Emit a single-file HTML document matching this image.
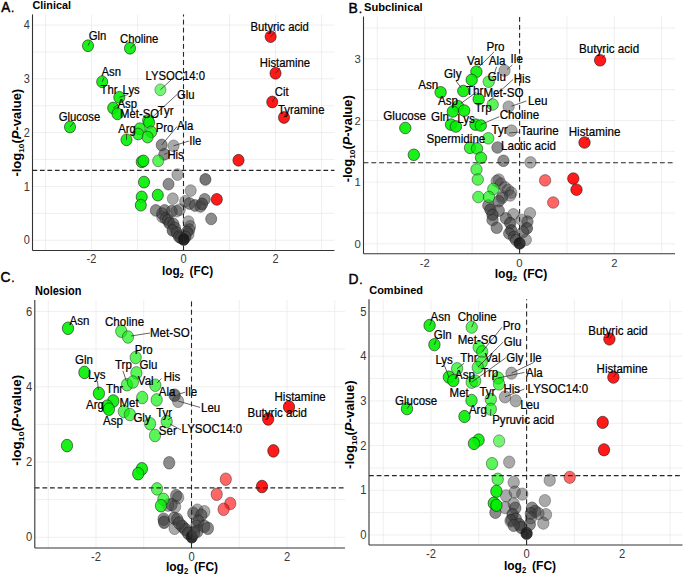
<!DOCTYPE html>
<html><head><meta charset="utf-8"><style>
html,body{margin:0;padding:0;background:#fff;}
svg{display:block;}
text{font-family:"Liberation Sans", sans-serif;}
</style></head><body>
<svg width="685" height="576" viewBox="0 0 685 576" font-family='"Liberation Sans", sans-serif'>
<rect width="685" height="576" fill="#fff"/>
<line x1="45.5" y1="14.4" x2="45.5" y2="250.5" stroke="#ebebeb" stroke-width="0.8"/>
<line x1="91.5" y1="14.4" x2="91.5" y2="250.5" stroke="#ebebeb" stroke-width="0.8"/>
<line x1="137.5" y1="14.4" x2="137.5" y2="250.5" stroke="#ebebeb" stroke-width="0.8"/>
<line x1="183.5" y1="14.4" x2="183.5" y2="250.5" stroke="#ebebeb" stroke-width="0.8"/>
<line x1="229.5" y1="14.4" x2="229.5" y2="250.5" stroke="#ebebeb" stroke-width="0.8"/>
<line x1="275.5" y1="14.4" x2="275.5" y2="250.5" stroke="#ebebeb" stroke-width="0.8"/>
<line x1="321.5" y1="14.4" x2="321.5" y2="250.5" stroke="#ebebeb" stroke-width="0.8"/>
<line x1="32.5" y1="240.25" x2="334.5" y2="240.25" stroke="#ebebeb" stroke-width="0.8"/>
<line x1="32.5" y1="213.35" x2="334.5" y2="213.35" stroke="#ebebeb" stroke-width="0.8"/>
<line x1="32.5" y1="186.45" x2="334.5" y2="186.45" stroke="#ebebeb" stroke-width="0.8"/>
<line x1="32.5" y1="159.55" x2="334.5" y2="159.55" stroke="#ebebeb" stroke-width="0.8"/>
<line x1="32.5" y1="132.65" x2="334.5" y2="132.65" stroke="#ebebeb" stroke-width="0.8"/>
<line x1="32.5" y1="105.75" x2="334.5" y2="105.75" stroke="#ebebeb" stroke-width="0.8"/>
<line x1="32.5" y1="78.85" x2="334.5" y2="78.85" stroke="#ebebeb" stroke-width="0.8"/>
<line x1="32.5" y1="51.95" x2="334.5" y2="51.95" stroke="#ebebeb" stroke-width="0.8"/>
<line x1="32.5" y1="25.05" x2="334.5" y2="25.05" stroke="#ebebeb" stroke-width="0.8"/>
<line x1="377.3" y1="16.5" x2="377.3" y2="253.7" stroke="#ebebeb" stroke-width="0.8"/>
<line x1="424.7" y1="16.5" x2="424.7" y2="253.7" stroke="#ebebeb" stroke-width="0.8"/>
<line x1="472.1" y1="16.5" x2="472.1" y2="253.7" stroke="#ebebeb" stroke-width="0.8"/>
<line x1="519.5" y1="16.5" x2="519.5" y2="253.7" stroke="#ebebeb" stroke-width="0.8"/>
<line x1="566.9" y1="16.5" x2="566.9" y2="253.7" stroke="#ebebeb" stroke-width="0.8"/>
<line x1="614.3" y1="16.5" x2="614.3" y2="253.7" stroke="#ebebeb" stroke-width="0.8"/>
<line x1="661.7" y1="16.5" x2="661.7" y2="253.7" stroke="#ebebeb" stroke-width="0.8"/>
<line x1="363.5" y1="243.8" x2="675" y2="243.8" stroke="#ebebeb" stroke-width="0.8"/>
<line x1="363.5" y1="212.98" x2="675" y2="212.98" stroke="#ebebeb" stroke-width="0.8"/>
<line x1="363.5" y1="182.15" x2="675" y2="182.15" stroke="#ebebeb" stroke-width="0.8"/>
<line x1="363.5" y1="151.33" x2="675" y2="151.33" stroke="#ebebeb" stroke-width="0.8"/>
<line x1="363.5" y1="120.5" x2="675" y2="120.5" stroke="#ebebeb" stroke-width="0.8"/>
<line x1="363.5" y1="89.68" x2="675" y2="89.68" stroke="#ebebeb" stroke-width="0.8"/>
<line x1="363.5" y1="58.85" x2="675" y2="58.85" stroke="#ebebeb" stroke-width="0.8"/>
<line x1="363.5" y1="28.03" x2="675" y2="28.03" stroke="#ebebeb" stroke-width="0.8"/>
<line x1="48.25" y1="300" x2="48.25" y2="548" stroke="#ebebeb" stroke-width="0.8"/>
<line x1="96.0" y1="300" x2="96.0" y2="548" stroke="#ebebeb" stroke-width="0.8"/>
<line x1="143.75" y1="300" x2="143.75" y2="548" stroke="#ebebeb" stroke-width="0.8"/>
<line x1="191.5" y1="300" x2="191.5" y2="548" stroke="#ebebeb" stroke-width="0.8"/>
<line x1="239.25" y1="300" x2="239.25" y2="548" stroke="#ebebeb" stroke-width="0.8"/>
<line x1="287.0" y1="300" x2="287.0" y2="548" stroke="#ebebeb" stroke-width="0.8"/>
<line x1="334.75" y1="300" x2="334.75" y2="548" stroke="#ebebeb" stroke-width="0.8"/>
<line x1="34.8" y1="537.3" x2="345" y2="537.3" stroke="#ebebeb" stroke-width="0.8"/>
<line x1="34.8" y1="499.65" x2="345" y2="499.65" stroke="#ebebeb" stroke-width="0.8"/>
<line x1="34.8" y1="462.0" x2="345" y2="462.0" stroke="#ebebeb" stroke-width="0.8"/>
<line x1="34.8" y1="424.35" x2="345" y2="424.35" stroke="#ebebeb" stroke-width="0.8"/>
<line x1="34.8" y1="386.7" x2="345" y2="386.7" stroke="#ebebeb" stroke-width="0.8"/>
<line x1="34.8" y1="349.05" x2="345" y2="349.05" stroke="#ebebeb" stroke-width="0.8"/>
<line x1="34.8" y1="311.4" x2="345" y2="311.4" stroke="#ebebeb" stroke-width="0.8"/>
<line x1="383.2" y1="299.3" x2="383.2" y2="545" stroke="#ebebeb" stroke-width="0.8"/>
<line x1="431.0" y1="299.3" x2="431.0" y2="545" stroke="#ebebeb" stroke-width="0.8"/>
<line x1="478.8" y1="299.3" x2="478.8" y2="545" stroke="#ebebeb" stroke-width="0.8"/>
<line x1="526.6" y1="299.3" x2="526.6" y2="545" stroke="#ebebeb" stroke-width="0.8"/>
<line x1="574.4" y1="299.3" x2="574.4" y2="545" stroke="#ebebeb" stroke-width="0.8"/>
<line x1="622.2" y1="299.3" x2="622.2" y2="545" stroke="#ebebeb" stroke-width="0.8"/>
<line x1="670.0" y1="299.3" x2="670.0" y2="545" stroke="#ebebeb" stroke-width="0.8"/>
<line x1="369" y1="534.9" x2="682.5" y2="534.9" stroke="#ebebeb" stroke-width="0.8"/>
<line x1="369" y1="512.57" x2="682.5" y2="512.57" stroke="#ebebeb" stroke-width="0.8"/>
<line x1="369" y1="490.25" x2="682.5" y2="490.25" stroke="#ebebeb" stroke-width="0.8"/>
<line x1="369" y1="467.92" x2="682.5" y2="467.92" stroke="#ebebeb" stroke-width="0.8"/>
<line x1="369" y1="445.6" x2="682.5" y2="445.6" stroke="#ebebeb" stroke-width="0.8"/>
<line x1="369" y1="423.27" x2="682.5" y2="423.27" stroke="#ebebeb" stroke-width="0.8"/>
<line x1="369" y1="400.95" x2="682.5" y2="400.95" stroke="#ebebeb" stroke-width="0.8"/>
<line x1="369" y1="378.62" x2="682.5" y2="378.62" stroke="#ebebeb" stroke-width="0.8"/>
<line x1="369" y1="356.3" x2="682.5" y2="356.3" stroke="#ebebeb" stroke-width="0.8"/>
<line x1="369" y1="333.98" x2="682.5" y2="333.98" stroke="#ebebeb" stroke-width="0.8"/>
<line x1="369" y1="311.65" x2="682.5" y2="311.65" stroke="#ebebeb" stroke-width="0.8"/>
<line x1="32.5" y1="14.4" x2="32.5" y2="250.5" stroke="#333333" stroke-width="1.1"/>
<line x1="32.5" y1="250.5" x2="334.5" y2="250.5" stroke="#333333" stroke-width="1.1"/>
<text transform="translate(91.5,262.9) scale(1,1.08)" font-size="11" text-anchor="middle" fill="#383838">-2</text>
<text transform="translate(183.5,262.9) scale(1,1.08)" font-size="11" text-anchor="middle" fill="#383838">0</text>
<text transform="translate(275.5,262.9) scale(1,1.08)" font-size="11" text-anchor="middle" fill="#383838">2</text>
<text transform="translate(29.9,244.35) scale(1,1.08)" font-size="11" text-anchor="end" fill="#383838">0</text>
<text transform="translate(29.9,190.55) scale(1,1.08)" font-size="11" text-anchor="end" fill="#383838">1</text>
<text transform="translate(29.9,136.75) scale(1,1.08)" font-size="11" text-anchor="end" fill="#383838">2</text>
<text transform="translate(29.9,82.95) scale(1,1.08)" font-size="11" text-anchor="end" fill="#383838">3</text>
<text transform="translate(29.9,29.15) scale(1,1.08)" font-size="11" text-anchor="end" fill="#383838">4</text>
<text transform="translate(32.5,9.4) scale(1,1.08)" font-size="10.8" font-weight="bold">Clinical</text>
<text transform="translate(1.2,12) scale(1,1.08)" font-size="13.5" stroke="#000" stroke-width="0.45">A<tspan font-size="10" dx="1">.</tspan></text>
<text transform="translate(187.5,275) scale(1,1.08)" font-size="11.8" text-anchor="middle" font-weight="bold">log<tspan font-size="7.5" dy="3">2</tspan><tspan dy="-3" dx="2.5"> (FC)</tspan></text>
<text transform="translate(21,132.7) rotate(-90) scale(1.08,1)" font-size="12" font-weight="bold" text-anchor="middle">-log<tspan font-size="7.8" dy="3">10</tspan><tspan dy="-3">(</tspan><tspan font-style="italic">P</tspan>-value)</text>
<ellipse cx="161.7" cy="145" rx="5.55" ry="5.9" fill="#404040" stroke="#1a1a1a" stroke-width="0.6" fill-opacity="0.6" stroke-opacity="0.7"/>
<ellipse cx="173.6" cy="145.8" rx="5.55" ry="5.9" fill="#404040" stroke="#1a1a1a" stroke-width="0.6" fill-opacity="0.45" stroke-opacity="0.55"/>
<ellipse cx="164.3" cy="154.3" rx="5.55" ry="5.9" fill="#404040" stroke="#1a1a1a" stroke-width="0.6" fill-opacity="0.6" stroke-opacity="0.7"/>
<ellipse cx="177.4" cy="174.6" rx="5.55" ry="5.9" fill="#404040" stroke="#1a1a1a" stroke-width="0.6" fill-opacity="0.45" stroke-opacity="0.55"/>
<ellipse cx="168.5" cy="184.1" rx="5.55" ry="5.9" fill="#404040" stroke="#1a1a1a" stroke-width="0.6" fill-opacity="0.6" stroke-opacity="0.7"/>
<ellipse cx="205.4" cy="179.4" rx="5.55" ry="5.9" fill="#404040" stroke="#1a1a1a" stroke-width="0.6" fill-opacity="0.72" stroke-opacity="0.82"/>
<ellipse cx="190.7" cy="190.6" rx="5.55" ry="5.9" fill="#404040" stroke="#1a1a1a" stroke-width="0.6" fill-opacity="0.45" stroke-opacity="0.55"/>
<ellipse cx="172.8" cy="198.7" rx="5.55" ry="5.9" fill="#404040" stroke="#1a1a1a" stroke-width="0.6" fill-opacity="0.45" stroke-opacity="0.55"/>
<ellipse cx="185.2" cy="201.3" rx="5.55" ry="5.9" fill="#404040" stroke="#1a1a1a" stroke-width="0.6" fill-opacity="0.45" stroke-opacity="0.55"/>
<ellipse cx="189.5" cy="203.5" rx="5.55" ry="5.9" fill="#404040" stroke="#1a1a1a" stroke-width="0.6" fill-opacity="0.6" stroke-opacity="0.7"/>
<ellipse cx="195" cy="205.5" rx="5.55" ry="5.9" fill="#404040" stroke="#1a1a1a" stroke-width="0.6" fill-opacity="0.6" stroke-opacity="0.7"/>
<ellipse cx="200.5" cy="206.4" rx="5.55" ry="5.9" fill="#404040" stroke="#1a1a1a" stroke-width="0.6" fill-opacity="0.6" stroke-opacity="0.7"/>
<ellipse cx="204.7" cy="199.3" rx="5.55" ry="5.9" fill="#404040" stroke="#1a1a1a" stroke-width="0.6" fill-opacity="0.6" stroke-opacity="0.7"/>
<ellipse cx="202.1" cy="203.9" rx="5.55" ry="5.9" fill="#404040" stroke="#1a1a1a" stroke-width="0.6" fill-opacity="0.72" stroke-opacity="0.82"/>
<ellipse cx="155.8" cy="210.4" rx="5.55" ry="5.9" fill="#404040" stroke="#1a1a1a" stroke-width="0.6" fill-opacity="0.6" stroke-opacity="0.7"/>
<ellipse cx="164.6" cy="210.4" rx="5.55" ry="5.9" fill="#404040" stroke="#1a1a1a" stroke-width="0.6" fill-opacity="0.6" stroke-opacity="0.7"/>
<ellipse cx="171.8" cy="211.2" rx="5.55" ry="5.9" fill="#404040" stroke="#1a1a1a" stroke-width="0.6" fill-opacity="0.6" stroke-opacity="0.7"/>
<ellipse cx="176.6" cy="211.2" rx="5.55" ry="5.9" fill="#404040" stroke="#1a1a1a" stroke-width="0.6" fill-opacity="0.45" stroke-opacity="0.55"/>
<ellipse cx="179.8" cy="209.6" rx="5.55" ry="5.9" fill="#404040" stroke="#1a1a1a" stroke-width="0.6" fill-opacity="0.45" stroke-opacity="0.55"/>
<ellipse cx="162.2" cy="216.8" rx="5.55" ry="5.9" fill="#404040" stroke="#1a1a1a" stroke-width="0.6" fill-opacity="0.45" stroke-opacity="0.55"/>
<ellipse cx="162.2" cy="213.6" rx="5.55" ry="5.9" fill="#404040" stroke="#1a1a1a" stroke-width="0.6" fill-opacity="0.6" stroke-opacity="0.7"/>
<ellipse cx="211.2" cy="218.9" rx="5.55" ry="5.9" fill="#404040" stroke="#1a1a1a" stroke-width="0.6" fill-opacity="0.6" stroke-opacity="0.7"/>
<ellipse cx="165.4" cy="218.4" rx="5.55" ry="5.9" fill="#404040" stroke="#1a1a1a" stroke-width="0.6" fill-opacity="0.6" stroke-opacity="0.7"/>
<ellipse cx="168" cy="220" rx="5.55" ry="5.9" fill="#404040" stroke="#1a1a1a" stroke-width="0.6" fill-opacity="0.6" stroke-opacity="0.7"/>
<ellipse cx="169.4" cy="223.2" rx="5.55" ry="5.9" fill="#404040" stroke="#1a1a1a" stroke-width="0.6" fill-opacity="0.72" stroke-opacity="0.82"/>
<ellipse cx="173.4" cy="224" rx="5.55" ry="5.9" fill="#404040" stroke="#1a1a1a" stroke-width="0.6" fill-opacity="0.6" stroke-opacity="0.7"/>
<ellipse cx="175" cy="228" rx="5.55" ry="5.9" fill="#404040" stroke="#1a1a1a" stroke-width="0.6" fill-opacity="0.6" stroke-opacity="0.7"/>
<ellipse cx="172.6" cy="230.4" rx="5.55" ry="5.9" fill="#404040" stroke="#1a1a1a" stroke-width="0.6" fill-opacity="0.72" stroke-opacity="0.82"/>
<ellipse cx="176.6" cy="232.7" rx="5.55" ry="5.9" fill="#404040" stroke="#1a1a1a" stroke-width="0.6" fill-opacity="0.72" stroke-opacity="0.82"/>
<ellipse cx="179" cy="236.7" rx="5.55" ry="5.9" fill="#404040" stroke="#1a1a1a" stroke-width="0.6" fill-opacity="0.72" stroke-opacity="0.82"/>
<ellipse cx="181" cy="238" rx="5.55" ry="5.9" fill="#404040" stroke="#1a1a1a" stroke-width="0.6" fill-opacity="0.6" stroke-opacity="0.7"/>
<ellipse cx="188.5" cy="221.6" rx="5.55" ry="5.9" fill="#404040" stroke="#1a1a1a" stroke-width="0.6" fill-opacity="0.45" stroke-opacity="0.55"/>
<ellipse cx="190.1" cy="226.4" rx="5.55" ry="5.9" fill="#404040" stroke="#1a1a1a" stroke-width="0.6" fill-opacity="0.45" stroke-opacity="0.55"/>
<ellipse cx="189.3" cy="229.6" rx="5.55" ry="5.9" fill="#404040" stroke="#1a1a1a" stroke-width="0.6" fill-opacity="0.6" stroke-opacity="0.7"/>
<ellipse cx="187" cy="232" rx="5.55" ry="5.9" fill="#404040" stroke="#1a1a1a" stroke-width="0.6" fill-opacity="0.6" stroke-opacity="0.7"/>
<ellipse cx="188.5" cy="234.3" rx="5.55" ry="5.9" fill="#404040" stroke="#1a1a1a" stroke-width="0.6" fill-opacity="0.45" stroke-opacity="0.55"/>
<ellipse cx="185.5" cy="237" rx="5.55" ry="5.9" fill="#404040" stroke="#1a1a1a" stroke-width="0.6" fill-opacity="0.6" stroke-opacity="0.7"/>
<ellipse cx="183.75" cy="239.5" rx="5.55" ry="5.9" fill="#1a1a1a" stroke="#1a1a1a" stroke-width="0.6" fill-opacity="0.9" stroke-opacity="1"/>
<ellipse cx="88" cy="45.75" rx="5.55" ry="5.9" fill="#00f000" stroke="#1a1a1a" stroke-width="0.6" fill-opacity="0.9" stroke-opacity="1"/>
<ellipse cx="130" cy="48.25" rx="5.55" ry="5.9" fill="#00f000" stroke="#1a1a1a" stroke-width="0.6" fill-opacity="0.9" stroke-opacity="1"/>
<ellipse cx="102.2" cy="81.8" rx="5.55" ry="5.9" fill="#00f000" stroke="#1a1a1a" stroke-width="0.6" fill-opacity="0.9" stroke-opacity="1"/>
<ellipse cx="160.4" cy="89.8" rx="5.55" ry="5.9" fill="#00f000" stroke="#1a1a1a" stroke-width="0.6" fill-opacity="0.55" stroke-opacity="0.65"/>
<ellipse cx="119.3" cy="97.3" rx="5.55" ry="5.9" fill="#00f000" stroke="#1a1a1a" stroke-width="0.6" fill-opacity="0.9" stroke-opacity="1"/>
<ellipse cx="113.2" cy="108" rx="5.55" ry="5.9" fill="#00f000" stroke="#1a1a1a" stroke-width="0.6" fill-opacity="0.9" stroke-opacity="1"/>
<ellipse cx="117.5" cy="113.9" rx="5.55" ry="5.9" fill="#00f000" stroke="#1a1a1a" stroke-width="0.6" fill-opacity="0.9" stroke-opacity="1"/>
<ellipse cx="70" cy="127" rx="5.55" ry="5.9" fill="#00f000" stroke="#1a1a1a" stroke-width="0.6" fill-opacity="0.9" stroke-opacity="1"/>
<ellipse cx="126.5" cy="139.8" rx="5.55" ry="5.9" fill="#00f000" stroke="#1a1a1a" stroke-width="0.6" fill-opacity="0.9" stroke-opacity="1"/>
<ellipse cx="148.1" cy="120.4" rx="5.55" ry="5.9" fill="#00f000" stroke="#1a1a1a" stroke-width="0.6" fill-opacity="0.8" stroke-opacity="0.9"/>
<ellipse cx="149.2" cy="122.5" rx="5.55" ry="5.9" fill="#00f000" stroke="#1a1a1a" stroke-width="0.6" fill-opacity="0.8" stroke-opacity="0.9"/>
<ellipse cx="139.8" cy="128.75" rx="5.55" ry="5.9" fill="#00f000" stroke="#1a1a1a" stroke-width="0.6" fill-opacity="0.8" stroke-opacity="0.9"/>
<ellipse cx="138.2" cy="134" rx="5.55" ry="5.9" fill="#00f000" stroke="#1a1a1a" stroke-width="0.6" fill-opacity="0.8" stroke-opacity="0.9"/>
<ellipse cx="151.25" cy="131.9" rx="5.55" ry="5.9" fill="#00f000" stroke="#1a1a1a" stroke-width="0.6" fill-opacity="0.8" stroke-opacity="0.9"/>
<ellipse cx="147.6" cy="137.1" rx="5.55" ry="5.9" fill="#00f000" stroke="#1a1a1a" stroke-width="0.6" fill-opacity="0.8" stroke-opacity="0.9"/>
<ellipse cx="141.7" cy="161.8" rx="5.55" ry="5.9" fill="#00f000" stroke="#1a1a1a" stroke-width="0.6" fill-opacity="0.9" stroke-opacity="1"/>
<ellipse cx="143.4" cy="160.9" rx="5.55" ry="5.9" fill="#00f000" stroke="#1a1a1a" stroke-width="0.6" fill-opacity="0.9" stroke-opacity="1"/>
<ellipse cx="158.2" cy="160.8" rx="5.55" ry="5.9" fill="#00f000" stroke="#1a1a1a" stroke-width="0.6" fill-opacity="0.65" stroke-opacity="0.75"/>
<ellipse cx="144" cy="182.1" rx="5.55" ry="5.9" fill="#00f000" stroke="#1a1a1a" stroke-width="0.6" fill-opacity="0.9" stroke-opacity="1"/>
<ellipse cx="141.7" cy="196.9" rx="5.55" ry="5.9" fill="#00f000" stroke="#1a1a1a" stroke-width="0.6" fill-opacity="0.9" stroke-opacity="1"/>
<ellipse cx="140.8" cy="205.2" rx="5.55" ry="5.9" fill="#00f000" stroke="#1a1a1a" stroke-width="0.6" fill-opacity="0.9" stroke-opacity="1"/>
<ellipse cx="157.8" cy="195.1" rx="5.55" ry="5.9" fill="#00f000" stroke="#1a1a1a" stroke-width="0.6" fill-opacity="0.9" stroke-opacity="1"/>
<ellipse cx="270.65" cy="36.65" rx="5.55" ry="5.9" fill="#ff0000" stroke="#1a1a1a" stroke-width="0.6" fill-opacity="0.9" stroke-opacity="1"/>
<ellipse cx="275.5" cy="73.25" rx="5.55" ry="5.9" fill="#ff0000" stroke="#1a1a1a" stroke-width="0.6" fill-opacity="0.9" stroke-opacity="1"/>
<ellipse cx="272.25" cy="102" rx="5.55" ry="5.9" fill="#ff0000" stroke="#1a1a1a" stroke-width="0.6" fill-opacity="0.9" stroke-opacity="1"/>
<ellipse cx="284" cy="117.5" rx="5.55" ry="5.9" fill="#ff0000" stroke="#1a1a1a" stroke-width="0.6" fill-opacity="0.9" stroke-opacity="1"/>
<ellipse cx="238.5" cy="160.25" rx="5.55" ry="5.9" fill="#ff0000" stroke="#1a1a1a" stroke-width="0.6" fill-opacity="0.9" stroke-opacity="1"/>
<ellipse cx="216.8" cy="199.4" rx="5.55" ry="5.9" fill="#ff0000" stroke="#1a1a1a" stroke-width="0.6" fill-opacity="0.9" stroke-opacity="1"/>
<line x1="183.5" y1="250.5" x2="183.5" y2="14.4" stroke="#262626" stroke-width="1.1" stroke-dasharray="4.84,3.23"/>
<line x1="32.5" y1="170.4" x2="334.5" y2="170.4" stroke="#262626" stroke-width="1.1" stroke-dasharray="4.7,2.76"/>
<line x1="70" y1="127" x2="74" y2="122.3" stroke="#222" stroke-width="0.7"/>
<line x1="270.65" y1="36.65" x2="276" y2="31.5" stroke="#222" stroke-width="0.7"/>
<line x1="130.3" y1="48.2" x2="135.5" y2="43.5" stroke="#222" stroke-width="0.7"/>
<line x1="88" y1="45.75" x2="90" y2="41.5" stroke="#222" stroke-width="0.7"/>
<line x1="160.4" y1="89.8" x2="171" y2="80" stroke="#222" stroke-width="0.7"/>
<line x1="153.3" y1="116.3" x2="177" y2="94.5" stroke="#222" stroke-width="0.7"/>
<line x1="161.7" y1="145" x2="177" y2="126.6" stroke="#222" stroke-width="0.7"/>
<line x1="173.6" y1="145.8" x2="189" y2="141" stroke="#222" stroke-width="0.7"/>
<line x1="119.3" y1="97.3" x2="128.3" y2="94.4" stroke="#222" stroke-width="0.7"/>
<line x1="126.5" y1="139.8" x2="126.5" y2="134" stroke="#222" stroke-width="0.7"/>
<line x1="275.5" y1="73.25" x2="280" y2="68" stroke="#222" stroke-width="0.7"/>
<line x1="284" y1="117.5" x2="285.5" y2="114" stroke="#222" stroke-width="0.7"/>
<line x1="102.2" y1="81.8" x2="104" y2="77.5" stroke="#222" stroke-width="0.7"/>
<line x1="113.2" y1="108" x2="117.5" y2="105" stroke="#222" stroke-width="0.7"/>
<line x1="164.3" y1="154.3" x2="167.5" y2="153" stroke="#222" stroke-width="0.7"/>
<line x1="272.25" y1="102" x2="275" y2="97.5" stroke="#222" stroke-width="0.7"/>
<text transform="translate(88.75,40) scale(1,1.08)" font-size="11.3" stroke="#000" stroke-width="0.2">Gln</text>
<text transform="translate(120,42.5) scale(1,1.08)" font-size="11.3" stroke="#000" stroke-width="0.2">Choline</text>
<text transform="translate(101.5,76) scale(1,1.08)" font-size="11.3" stroke="#000" stroke-width="0.2">Asn</text>
<text transform="translate(145.5,79.6) scale(1,1.08)" font-size="11.3" stroke="#000" stroke-width="0.2">LYSOC14:0</text>
<text transform="translate(100.5,93.5) scale(1,1.08)" font-size="11.3" stroke="#000" stroke-width="0.2">Thr</text>
<text transform="translate(122.6,93.5) scale(1,1.08)" font-size="11.3" stroke="#000" stroke-width="0.2">Lys</text>
<text transform="translate(117.5,108.1) scale(1,1.08)" font-size="11.3" stroke="#000" stroke-width="0.2">Asp</text>
<text transform="translate(120.1,117.7) scale(1,1.08)" font-size="11.3" stroke="#000" stroke-width="0.2">Met-SO</text>
<text transform="translate(157.8,115.2) scale(1,1.08)" font-size="11.3" stroke="#000" stroke-width="0.2">Tyr</text>
<text transform="translate(177,99.4) scale(1,1.08)" font-size="11.3" stroke="#000" stroke-width="0.2">Glu</text>
<text transform="translate(58.75,121) scale(1,1.08)" font-size="11.3" stroke="#000" stroke-width="0.2">Glucose</text>
<text transform="translate(118.2,132.6) scale(1,1.08)" font-size="11.3" stroke="#000" stroke-width="0.2">Arg</text>
<text transform="translate(155.7,132.2) scale(1,1.08)" font-size="11.3" stroke="#000" stroke-width="0.2">Pro</text>
<text transform="translate(177,130.1) scale(1,1.08)" font-size="11.3" stroke="#000" stroke-width="0.2">Ala</text>
<text transform="translate(189.3,145) scale(1,1.08)" font-size="11.3" stroke="#000" stroke-width="0.2">Ile</text>
<text transform="translate(167.4,159) scale(1,1.08)" font-size="11.3" stroke="#000" stroke-width="0.2">His</text>
<text transform="translate(250.5,30.5) scale(1,1.08)" font-size="11.3" stroke="#000" stroke-width="0.2">Butyric acid</text>
<text transform="translate(259.75,67) scale(1,1.08)" font-size="11.3" stroke="#000" stroke-width="0.2">Histamine</text>
<text transform="translate(274.75,96.25) scale(1,1.08)" font-size="11.3" stroke="#000" stroke-width="0.2">Cit</text>
<text transform="translate(278,113.75) scale(1,1.08)" font-size="11.3" stroke="#000" stroke-width="0.2">Tyramine</text>
<line x1="363.5" y1="16.5" x2="363.5" y2="253.7" stroke="#333333" stroke-width="1.1"/>
<line x1="363.5" y1="253.7" x2="675" y2="253.7" stroke="#333333" stroke-width="1.1"/>
<text transform="translate(424.7,266.5) scale(1.03,1.07)" font-size="11" text-anchor="middle" fill="#383838">-2</text>
<text transform="translate(519.5,266.5) scale(1.03,1.07)" font-size="11" text-anchor="middle" fill="#383838">0</text>
<text transform="translate(614.3,266.5) scale(1.03,1.07)" font-size="11" text-anchor="middle" fill="#383838">2</text>
<text transform="translate(360.9,247.9) scale(1.03,1.07)" font-size="11" text-anchor="end" fill="#383838">0</text>
<text transform="translate(360.9,186.25) scale(1.03,1.07)" font-size="11" text-anchor="end" fill="#383838">1</text>
<text transform="translate(360.9,124.6) scale(1.03,1.07)" font-size="11" text-anchor="end" fill="#383838">2</text>
<text transform="translate(360.9,62.95) scale(1.03,1.07)" font-size="11" text-anchor="end" fill="#383838">3</text>
<text transform="translate(364,11.2) scale(1.03,1.07)" font-size="10.8" font-weight="bold">Subclinical</text>
<text transform="translate(348.6,12.6) scale(1.03,1.07)" font-size="13.5" stroke="#000" stroke-width="0.45">B<tspan font-size="10" dx="1">.</tspan></text>
<text transform="translate(521,278) scale(1.03,1.07)" font-size="11.8" text-anchor="middle" font-weight="bold">log<tspan font-size="7.5" dy="3">2</tspan><tspan dy="-3" dx="2.5"> (FC)</tspan></text>
<text transform="translate(351.5,138.8) rotate(-90) scale(1.07,1.03)" font-size="12" font-weight="bold" text-anchor="middle">-log<tspan font-size="7.8" dy="3">10</tspan><tspan dy="-3">(</tspan><tspan font-style="italic">P</tspan>-value)</text>
<ellipse cx="504.5" cy="70.6" rx="5.7" ry="5.8" fill="#404040" stroke="#1a1a1a" stroke-width="0.6" fill-opacity="0.45" stroke-opacity="0.55"/>
<ellipse cx="508.6" cy="106.7" rx="5.7" ry="5.8" fill="#404040" stroke="#1a1a1a" stroke-width="0.6" fill-opacity="0.45" stroke-opacity="0.55"/>
<ellipse cx="511.5" cy="130.6" rx="5.7" ry="5.8" fill="#404040" stroke="#1a1a1a" stroke-width="0.6" fill-opacity="0.45" stroke-opacity="0.55"/>
<ellipse cx="497.5" cy="147.5" rx="5.7" ry="5.8" fill="#404040" stroke="#1a1a1a" stroke-width="0.6" fill-opacity="0.6" stroke-opacity="0.7"/>
<ellipse cx="503.4" cy="160.8" rx="5.7" ry="5.8" fill="#404040" stroke="#1a1a1a" stroke-width="0.6" fill-opacity="0.6" stroke-opacity="0.7"/>
<ellipse cx="530.5" cy="162.4" rx="5.7" ry="5.8" fill="#404040" stroke="#1a1a1a" stroke-width="0.6" fill-opacity="0.45" stroke-opacity="0.55"/>
<ellipse cx="498.75" cy="179.6" rx="5.7" ry="5.8" fill="#404040" stroke="#1a1a1a" stroke-width="0.6" fill-opacity="0.45" stroke-opacity="0.55"/>
<ellipse cx="496.7" cy="181.1" rx="5.7" ry="5.8" fill="#404040" stroke="#1a1a1a" stroke-width="0.6" fill-opacity="0.45" stroke-opacity="0.55"/>
<ellipse cx="500.8" cy="183.75" rx="5.7" ry="5.8" fill="#404040" stroke="#1a1a1a" stroke-width="0.6" fill-opacity="0.45" stroke-opacity="0.55"/>
<ellipse cx="505" cy="187.4" rx="5.7" ry="5.8" fill="#404040" stroke="#1a1a1a" stroke-width="0.6" fill-opacity="0.45" stroke-opacity="0.55"/>
<ellipse cx="508.1" cy="190" rx="5.7" ry="5.8" fill="#404040" stroke="#1a1a1a" stroke-width="0.6" fill-opacity="0.45" stroke-opacity="0.55"/>
<ellipse cx="511.25" cy="192.6" rx="5.7" ry="5.8" fill="#404040" stroke="#1a1a1a" stroke-width="0.6" fill-opacity="0.45" stroke-opacity="0.55"/>
<ellipse cx="502.4" cy="196.25" rx="5.7" ry="5.8" fill="#404040" stroke="#1a1a1a" stroke-width="0.6" fill-opacity="0.45" stroke-opacity="0.55"/>
<ellipse cx="501.9" cy="198.1" rx="5.7" ry="5.8" fill="#404040" stroke="#1a1a1a" stroke-width="0.6" fill-opacity="0.45" stroke-opacity="0.55"/>
<ellipse cx="498.75" cy="201.25" rx="5.7" ry="5.8" fill="#404040" stroke="#1a1a1a" stroke-width="0.6" fill-opacity="0.6" stroke-opacity="0.7"/>
<ellipse cx="510.2" cy="195.5" rx="5.7" ry="5.8" fill="#404040" stroke="#1a1a1a" stroke-width="0.6" fill-opacity="0.45" stroke-opacity="0.55"/>
<ellipse cx="488.3" cy="205.4" rx="5.7" ry="5.8" fill="#404040" stroke="#1a1a1a" stroke-width="0.6" fill-opacity="0.6" stroke-opacity="0.7"/>
<ellipse cx="490.4" cy="209.6" rx="5.7" ry="5.8" fill="#404040" stroke="#1a1a1a" stroke-width="0.6" fill-opacity="0.72" stroke-opacity="0.82"/>
<ellipse cx="498.75" cy="210.6" rx="5.7" ry="5.8" fill="#404040" stroke="#1a1a1a" stroke-width="0.6" fill-opacity="0.6" stroke-opacity="0.7"/>
<ellipse cx="492.5" cy="214.8" rx="5.7" ry="5.8" fill="#404040" stroke="#1a1a1a" stroke-width="0.6" fill-opacity="0.72" stroke-opacity="0.82"/>
<ellipse cx="492.5" cy="220" rx="5.7" ry="5.8" fill="#404040" stroke="#1a1a1a" stroke-width="0.6" fill-opacity="0.6" stroke-opacity="0.7"/>
<ellipse cx="496.7" cy="227.8" rx="5.7" ry="5.8" fill="#404040" stroke="#1a1a1a" stroke-width="0.6" fill-opacity="0.6" stroke-opacity="0.7"/>
<ellipse cx="506" cy="218.4" rx="5.7" ry="5.8" fill="#404040" stroke="#1a1a1a" stroke-width="0.6" fill-opacity="0.6" stroke-opacity="0.7"/>
<ellipse cx="513.3" cy="214.3" rx="5.7" ry="5.8" fill="#404040" stroke="#1a1a1a" stroke-width="0.6" fill-opacity="0.45" stroke-opacity="0.55"/>
<ellipse cx="510.2" cy="223.1" rx="5.7" ry="5.8" fill="#404040" stroke="#1a1a1a" stroke-width="0.6" fill-opacity="0.72" stroke-opacity="0.82"/>
<ellipse cx="511.25" cy="230.4" rx="5.7" ry="5.8" fill="#404040" stroke="#1a1a1a" stroke-width="0.6" fill-opacity="0.72" stroke-opacity="0.82"/>
<ellipse cx="509.2" cy="233.5" rx="5.7" ry="5.8" fill="#404040" stroke="#1a1a1a" stroke-width="0.6" fill-opacity="0.6" stroke-opacity="0.7"/>
<ellipse cx="514" cy="237" rx="5.7" ry="5.8" fill="#404040" stroke="#1a1a1a" stroke-width="0.6" fill-opacity="0.6" stroke-opacity="0.7"/>
<ellipse cx="516" cy="240" rx="5.7" ry="5.8" fill="#404040" stroke="#1a1a1a" stroke-width="0.6" fill-opacity="0.6" stroke-opacity="0.7"/>
<ellipse cx="519.6" cy="243.4" rx="5.7" ry="5.8" fill="#1a1a1a" stroke="#1a1a1a" stroke-width="0.6" fill-opacity="0.9" stroke-opacity="1"/>
<ellipse cx="530" cy="213.2" rx="5.7" ry="5.8" fill="#404040" stroke="#1a1a1a" stroke-width="0.6" fill-opacity="0.45" stroke-opacity="0.55"/>
<ellipse cx="527.4" cy="221.6" rx="5.7" ry="5.8" fill="#404040" stroke="#1a1a1a" stroke-width="0.6" fill-opacity="0.6" stroke-opacity="0.7"/>
<ellipse cx="526.9" cy="228.3" rx="5.7" ry="5.8" fill="#404040" stroke="#1a1a1a" stroke-width="0.6" fill-opacity="0.72" stroke-opacity="0.82"/>
<ellipse cx="525.8" cy="239.8" rx="5.7" ry="5.8" fill="#404040" stroke="#1a1a1a" stroke-width="0.6" fill-opacity="0.45" stroke-opacity="0.55"/>
<ellipse cx="521.7" cy="220" rx="5.7" ry="5.8" fill="#404040" stroke="#1a1a1a" stroke-width="0.6" fill-opacity="0.45" stroke-opacity="0.55"/>
<ellipse cx="523" cy="232" rx="5.7" ry="5.8" fill="#404040" stroke="#1a1a1a" stroke-width="0.6" fill-opacity="0.6" stroke-opacity="0.7"/>
<ellipse cx="405.3" cy="128" rx="5.7" ry="5.8" fill="#00f000" stroke="#1a1a1a" stroke-width="0.6" fill-opacity="0.9" stroke-opacity="1"/>
<ellipse cx="440.6" cy="92.3" rx="5.7" ry="5.8" fill="#00f000" stroke="#1a1a1a" stroke-width="0.6" fill-opacity="0.9" stroke-opacity="1"/>
<ellipse cx="463.3" cy="91" rx="5.7" ry="5.8" fill="#00f000" stroke="#1a1a1a" stroke-width="0.6" fill-opacity="0.9" stroke-opacity="1"/>
<ellipse cx="476.4" cy="71.7" rx="5.7" ry="5.8" fill="#00f000" stroke="#1a1a1a" stroke-width="0.6" fill-opacity="0.9" stroke-opacity="1"/>
<ellipse cx="471.7" cy="79.9" rx="5.7" ry="5.8" fill="#00f000" stroke="#1a1a1a" stroke-width="0.6" fill-opacity="0.9" stroke-opacity="1"/>
<ellipse cx="488.7" cy="81.7" rx="5.7" ry="5.8" fill="#00f000" stroke="#1a1a1a" stroke-width="0.6" fill-opacity="0.65" stroke-opacity="0.75"/>
<ellipse cx="478.7" cy="99.2" rx="5.7" ry="5.8" fill="#00f000" stroke="#1a1a1a" stroke-width="0.6" fill-opacity="0.9" stroke-opacity="1"/>
<ellipse cx="492.7" cy="104.5" rx="5.7" ry="5.8" fill="#00f000" stroke="#1a1a1a" stroke-width="0.6" fill-opacity="0.65" stroke-opacity="0.75"/>
<ellipse cx="458" cy="106.2" rx="5.7" ry="5.8" fill="#00f000" stroke="#1a1a1a" stroke-width="0.6" fill-opacity="0.9" stroke-opacity="1"/>
<ellipse cx="464.2" cy="110.6" rx="5.7" ry="5.8" fill="#00f000" stroke="#1a1a1a" stroke-width="0.6" fill-opacity="0.9" stroke-opacity="1"/>
<ellipse cx="452.8" cy="111.5" rx="5.7" ry="5.8" fill="#00f000" stroke="#1a1a1a" stroke-width="0.6" fill-opacity="0.9" stroke-opacity="1"/>
<ellipse cx="451" cy="124.6" rx="5.7" ry="5.8" fill="#00f000" stroke="#1a1a1a" stroke-width="0.6" fill-opacity="0.9" stroke-opacity="1"/>
<ellipse cx="455.9" cy="126.5" rx="5.7" ry="5.8" fill="#00f000" stroke="#1a1a1a" stroke-width="0.6" fill-opacity="0.9" stroke-opacity="1"/>
<ellipse cx="475.5" cy="124.6" rx="5.7" ry="5.8" fill="#00f000" stroke="#1a1a1a" stroke-width="0.6" fill-opacity="0.9" stroke-opacity="1"/>
<ellipse cx="480.8" cy="125.5" rx="5.7" ry="5.8" fill="#00f000" stroke="#1a1a1a" stroke-width="0.6" fill-opacity="0.9" stroke-opacity="1"/>
<ellipse cx="488.3" cy="138.3" rx="5.7" ry="5.8" fill="#00f000" stroke="#1a1a1a" stroke-width="0.6" fill-opacity="0.65" stroke-opacity="0.75"/>
<ellipse cx="413.8" cy="154.8" rx="5.7" ry="5.8" fill="#00f000" stroke="#1a1a1a" stroke-width="0.6" fill-opacity="0.9" stroke-opacity="1"/>
<ellipse cx="470" cy="147.8" rx="5.7" ry="5.8" fill="#00f000" stroke="#1a1a1a" stroke-width="0.6" fill-opacity="0.8" stroke-opacity="0.9"/>
<ellipse cx="477" cy="148.5" rx="5.7" ry="5.8" fill="#00f000" stroke="#1a1a1a" stroke-width="0.6" fill-opacity="0.8" stroke-opacity="0.9"/>
<ellipse cx="481" cy="157.8" rx="5.7" ry="5.8" fill="#00f000" stroke="#1a1a1a" stroke-width="0.6" fill-opacity="0.8" stroke-opacity="0.9"/>
<ellipse cx="476.5" cy="169.5" rx="5.7" ry="5.8" fill="#00f000" stroke="#1a1a1a" stroke-width="0.6" fill-opacity="0.65" stroke-opacity="0.75"/>
<ellipse cx="477.8" cy="179.5" rx="5.7" ry="5.8" fill="#00f000" stroke="#1a1a1a" stroke-width="0.6" fill-opacity="0.65" stroke-opacity="0.75"/>
<ellipse cx="493.3" cy="189" rx="5.7" ry="5.8" fill="#00f000" stroke="#1a1a1a" stroke-width="0.6" fill-opacity="0.65" stroke-opacity="0.75"/>
<ellipse cx="478.3" cy="197" rx="5.7" ry="5.8" fill="#00f000" stroke="#1a1a1a" stroke-width="0.6" fill-opacity="0.65" stroke-opacity="0.75"/>
<ellipse cx="489" cy="197" rx="5.7" ry="5.8" fill="#00f000" stroke="#1a1a1a" stroke-width="0.6" fill-opacity="0.65" stroke-opacity="0.75"/>
<ellipse cx="600.1" cy="60.3" rx="5.7" ry="5.8" fill="#ff0000" stroke="#1a1a1a" stroke-width="0.6" fill-opacity="0.9" stroke-opacity="1"/>
<ellipse cx="584.5" cy="142.5" rx="5.7" ry="5.8" fill="#ff0000" stroke="#1a1a1a" stroke-width="0.6" fill-opacity="0.9" stroke-opacity="1"/>
<ellipse cx="545.1" cy="180.4" rx="5.7" ry="5.8" fill="#ff0000" stroke="#1a1a1a" stroke-width="0.6" fill-opacity="0.6" stroke-opacity="0.7"/>
<ellipse cx="573.3" cy="178.6" rx="5.7" ry="5.8" fill="#ff0000" stroke="#1a1a1a" stroke-width="0.6" fill-opacity="0.9" stroke-opacity="1"/>
<ellipse cx="576.5" cy="189.7" rx="5.7" ry="5.8" fill="#ff0000" stroke="#1a1a1a" stroke-width="0.6" fill-opacity="0.9" stroke-opacity="1"/>
<ellipse cx="553.2" cy="202.5" rx="5.7" ry="5.8" fill="#ff0000" stroke="#1a1a1a" stroke-width="0.6" fill-opacity="0.6" stroke-opacity="0.7"/>
<line x1="519.6" y1="253.7" x2="519.6" y2="16.5" stroke="#262626" stroke-width="1.1" stroke-dasharray="4.8,3.2"/>
<line x1="363.5" y1="162.7" x2="675" y2="162.7" stroke="#262626" stroke-width="1.1" stroke-dasharray="4.91,2.89"/>
<line x1="494" y1="51.9" x2="478.2" y2="67.7" stroke="#222" stroke-width="0.7"/>
<line x1="496.6" y1="66.8" x2="494" y2="74.7" stroke="#222" stroke-width="0.7"/>
<line x1="512.3" y1="65" x2="507.1" y2="69.4" stroke="#222" stroke-width="0.7"/>
<line x1="455.9" y1="80.8" x2="461.2" y2="87.8" stroke="#222" stroke-width="0.7"/>
<line x1="513.2" y1="79.4" x2="489" y2="101" stroke="#222" stroke-width="0.7"/>
<line x1="526.4" y1="101" x2="511.5" y2="106.2" stroke="#222" stroke-width="0.7"/>
<line x1="499.2" y1="116.7" x2="480.8" y2="124.6" stroke="#222" stroke-width="0.7"/>
<line x1="460.7" y1="103.6" x2="476.4" y2="92.2" stroke="#222" stroke-width="0.7"/>
<line x1="602" y1="58" x2="605" y2="55" stroke="#222" stroke-width="0.7"/>
<line x1="586" y1="140" x2="589" y2="137.5" stroke="#222" stroke-width="0.7"/>
<line x1="509" y1="133" x2="520" y2="132" stroke="#222" stroke-width="0.7"/>
<text transform="translate(383.3,119.5) scale(1.03,1.07)" font-size="11.3" stroke="#000" stroke-width="0.2">Glucose</text>
<text transform="translate(418.3,89.3) scale(1.03,1.07)" font-size="11.3" stroke="#000" stroke-width="0.2">Asn</text>
<text transform="translate(444,78.2) scale(1.03,1.07)" font-size="11.3" stroke="#000" stroke-width="0.2">Gly</text>
<text transform="translate(467.1,65.4) scale(1.03,1.07)" font-size="11.3" stroke="#000" stroke-width="0.2">Val</text>
<text transform="translate(486.4,50.7) scale(1.03,1.07)" font-size="11.3" stroke="#000" stroke-width="0.2">Pro</text>
<text transform="translate(488.7,65.4) scale(1.03,1.07)" font-size="11.3" stroke="#000" stroke-width="0.2">Ala</text>
<text transform="translate(510.6,63.3) scale(1.03,1.07)" font-size="11.3" stroke="#000" stroke-width="0.2">Ile</text>
<text transform="translate(487.8,80.8) scale(1.03,1.07)" font-size="11.3" stroke="#000" stroke-width="0.2">Glu</text>
<text transform="translate(513.7,82.6) scale(1.03,1.07)" font-size="11.3" stroke="#000" stroke-width="0.2">His</text>
<text transform="translate(465.9,94.5) scale(1.03,1.07)" font-size="11.3" stroke="#000" stroke-width="0.2">Thr</text>
<text transform="translate(483.4,97.4) scale(1.03,1.07)" font-size="11.3" stroke="#000" stroke-width="0.2">Met-SO</text>
<text transform="translate(528.1,104.5) scale(1.03,1.07)" font-size="11.3" stroke="#000" stroke-width="0.2">Leu</text>
<text transform="translate(437.9,104.5) scale(1.03,1.07)" font-size="11.3" stroke="#000" stroke-width="0.2">Asp</text>
<text transform="translate(474.7,112.3) scale(1.03,1.07)" font-size="11.3" stroke="#000" stroke-width="0.2">Trp</text>
<text transform="translate(499.7,119.3) scale(1.03,1.07)" font-size="11.3" stroke="#000" stroke-width="0.2">Choline</text>
<text transform="translate(430.9,121.1) scale(1.03,1.07)" font-size="11.3" stroke="#000" stroke-width="0.2">Gln</text>
<text transform="translate(457.2,122.9) scale(1.03,1.07)" font-size="11.3" stroke="#000" stroke-width="0.2">Lys</text>
<text transform="translate(491.5,133.8) scale(1.03,1.07)" font-size="11.3" stroke="#000" stroke-width="0.2">Tyr</text>
<text transform="translate(520.5,135.1) scale(1.03,1.07)" font-size="11.3" stroke="#000" stroke-width="0.2">Taurine</text>
<text transform="translate(426.5,142.5) scale(1.03,1.07)" font-size="11.3" stroke="#000" stroke-width="0.2">Spermidine</text>
<text transform="translate(501,150) scale(1.03,1.07)" font-size="11.3" stroke="#000" stroke-width="0.2">Lactic acid</text>
<text transform="translate(579,52.7) scale(1.03,1.07)" font-size="11.3" stroke="#000" stroke-width="0.2">Butyric acid</text>
<text transform="translate(568.7,135.6) scale(1.03,1.07)" font-size="11.3" stroke="#000" stroke-width="0.2">Histamine</text>
<line x1="34.8" y1="300" x2="34.8" y2="548" stroke="#333333" stroke-width="1.1"/>
<line x1="34.8" y1="548" x2="345" y2="548" stroke="#333333" stroke-width="1.1"/>
<text transform="translate(96,561) scale(1.02,1.12)" font-size="11" text-anchor="middle" fill="#383838">-2</text>
<text transform="translate(191.5,561) scale(1.02,1.12)" font-size="11" text-anchor="middle" fill="#383838">0</text>
<text transform="translate(287,561) scale(1.02,1.12)" font-size="11" text-anchor="middle" fill="#383838">2</text>
<text transform="translate(32.2,541.4) scale(1.02,1.12)" font-size="11" text-anchor="end" fill="#383838">0</text>
<text transform="translate(32.2,466.1) scale(1.02,1.12)" font-size="11" text-anchor="end" fill="#383838">2</text>
<text transform="translate(32.2,390.8) scale(1.02,1.12)" font-size="11" text-anchor="end" fill="#383838">4</text>
<text transform="translate(32.2,315.5) scale(1.02,1.12)" font-size="11" text-anchor="end" fill="#383838">6</text>
<text transform="translate(35,294.8) scale(1.02,1.12)" font-size="10.8" font-weight="bold">Nolesion</text>
<text transform="translate(0.6,282.3) scale(1.02,1.12)" font-size="13.5" stroke="#000" stroke-width="0.45">C<tspan font-size="10" dx="1">.</tspan></text>
<text transform="translate(192,571) scale(1.02,1.12)" font-size="11.8" text-anchor="middle" font-weight="bold">log<tspan font-size="7.5" dy="3">2</tspan><tspan dy="-3" dx="2.5"> (FC)</tspan></text>
<text transform="translate(21,420.3) rotate(-90) scale(1.12,1.02)" font-size="12" font-weight="bold" text-anchor="middle">-log<tspan font-size="7.8" dy="3">10</tspan><tspan dy="-3">(</tspan><tspan font-style="italic">P</tspan>-value)</text>
<ellipse cx="174.6" cy="395.2" rx="5.65" ry="6.3" fill="#404040" stroke="#1a1a1a" stroke-width="0.6" fill-opacity="0.72" stroke-opacity="0.82"/>
<ellipse cx="178.1" cy="401.3" rx="5.65" ry="6.3" fill="#404040" stroke="#1a1a1a" stroke-width="0.6" fill-opacity="0.45" stroke-opacity="0.55"/>
<ellipse cx="169.2" cy="462.8" rx="5.65" ry="6.3" fill="#404040" stroke="#1a1a1a" stroke-width="0.6" fill-opacity="0.6" stroke-opacity="0.7"/>
<ellipse cx="176.1" cy="495.6" rx="5.65" ry="6.3" fill="#404040" stroke="#1a1a1a" stroke-width="0.6" fill-opacity="0.6" stroke-opacity="0.7"/>
<ellipse cx="178.2" cy="497.6" rx="5.65" ry="6.3" fill="#404040" stroke="#1a1a1a" stroke-width="0.6" fill-opacity="0.45" stroke-opacity="0.55"/>
<ellipse cx="171.6" cy="504.6" rx="5.65" ry="6.3" fill="#404040" stroke="#1a1a1a" stroke-width="0.6" fill-opacity="0.6" stroke-opacity="0.7"/>
<ellipse cx="175.1" cy="506.6" rx="5.65" ry="6.3" fill="#404040" stroke="#1a1a1a" stroke-width="0.6" fill-opacity="0.45" stroke-opacity="0.55"/>
<ellipse cx="168.1" cy="505.1" rx="5.65" ry="6.3" fill="#404040" stroke="#1a1a1a" stroke-width="0.6" fill-opacity="0.45" stroke-opacity="0.55"/>
<ellipse cx="163.6" cy="519.2" rx="5.65" ry="6.3" fill="#404040" stroke="#1a1a1a" stroke-width="0.6" fill-opacity="0.6" stroke-opacity="0.7"/>
<ellipse cx="164.1" cy="522.2" rx="5.65" ry="6.3" fill="#404040" stroke="#1a1a1a" stroke-width="0.6" fill-opacity="0.72" stroke-opacity="0.82"/>
<ellipse cx="174.1" cy="518.2" rx="5.65" ry="6.3" fill="#404040" stroke="#1a1a1a" stroke-width="0.6" fill-opacity="0.6" stroke-opacity="0.7"/>
<ellipse cx="177.2" cy="519.2" rx="5.65" ry="6.3" fill="#404040" stroke="#1a1a1a" stroke-width="0.6" fill-opacity="0.6" stroke-opacity="0.7"/>
<ellipse cx="174.6" cy="528.3" rx="5.65" ry="6.3" fill="#404040" stroke="#1a1a1a" stroke-width="0.6" fill-opacity="0.45" stroke-opacity="0.55"/>
<ellipse cx="182.2" cy="526.3" rx="5.65" ry="6.3" fill="#404040" stroke="#1a1a1a" stroke-width="0.6" fill-opacity="0.72" stroke-opacity="0.82"/>
<ellipse cx="185.2" cy="529.3" rx="5.65" ry="6.3" fill="#404040" stroke="#1a1a1a" stroke-width="0.6" fill-opacity="0.72" stroke-opacity="0.82"/>
<ellipse cx="188.2" cy="533.3" rx="5.65" ry="6.3" fill="#404040" stroke="#1a1a1a" stroke-width="0.6" fill-opacity="0.72" stroke-opacity="0.82"/>
<ellipse cx="191.8" cy="536.8" rx="5.65" ry="6.3" fill="#1a1a1a" stroke="#1a1a1a" stroke-width="0.6" fill-opacity="0.9" stroke-opacity="1"/>
<ellipse cx="179" cy="523" rx="5.65" ry="6.3" fill="#404040" stroke="#1a1a1a" stroke-width="0.6" fill-opacity="0.6" stroke-opacity="0.7"/>
<ellipse cx="193.3" cy="513.2" rx="5.65" ry="6.3" fill="#404040" stroke="#1a1a1a" stroke-width="0.6" fill-opacity="0.6" stroke-opacity="0.7"/>
<ellipse cx="197.3" cy="510.2" rx="5.65" ry="6.3" fill="#404040" stroke="#1a1a1a" stroke-width="0.6" fill-opacity="0.45" stroke-opacity="0.55"/>
<ellipse cx="204.3" cy="511.7" rx="5.65" ry="6.3" fill="#404040" stroke="#1a1a1a" stroke-width="0.6" fill-opacity="0.45" stroke-opacity="0.55"/>
<ellipse cx="201.3" cy="515.2" rx="5.65" ry="6.3" fill="#404040" stroke="#1a1a1a" stroke-width="0.6" fill-opacity="0.6" stroke-opacity="0.7"/>
<ellipse cx="198.3" cy="521.2" rx="5.65" ry="6.3" fill="#404040" stroke="#1a1a1a" stroke-width="0.6" fill-opacity="0.72" stroke-opacity="0.82"/>
<ellipse cx="196.3" cy="526.3" rx="5.65" ry="6.3" fill="#404040" stroke="#1a1a1a" stroke-width="0.6" fill-opacity="0.6" stroke-opacity="0.7"/>
<ellipse cx="197.3" cy="531.3" rx="5.65" ry="6.3" fill="#404040" stroke="#1a1a1a" stroke-width="0.6" fill-opacity="0.6" stroke-opacity="0.7"/>
<ellipse cx="204.3" cy="526.3" rx="5.65" ry="6.3" fill="#404040" stroke="#1a1a1a" stroke-width="0.6" fill-opacity="0.6" stroke-opacity="0.7"/>
<ellipse cx="207.9" cy="528.3" rx="5.65" ry="6.3" fill="#404040" stroke="#1a1a1a" stroke-width="0.6" fill-opacity="0.6" stroke-opacity="0.7"/>
<ellipse cx="194" cy="533" rx="5.65" ry="6.3" fill="#404040" stroke="#1a1a1a" stroke-width="0.6" fill-opacity="0.6" stroke-opacity="0.7"/>
<ellipse cx="68" cy="328.25" rx="5.65" ry="6.3" fill="#00f000" stroke="#1a1a1a" stroke-width="0.6" fill-opacity="0.9" stroke-opacity="1"/>
<ellipse cx="121.25" cy="331.25" rx="5.65" ry="6.3" fill="#00f000" stroke="#1a1a1a" stroke-width="0.6" fill-opacity="0.65" stroke-opacity="0.75"/>
<ellipse cx="128" cy="337" rx="5.65" ry="6.3" fill="#00f000" stroke="#1a1a1a" stroke-width="0.6" fill-opacity="0.65" stroke-opacity="0.75"/>
<ellipse cx="135.7" cy="357.5" rx="5.65" ry="6.3" fill="#00f000" stroke="#1a1a1a" stroke-width="0.6" fill-opacity="0.65" stroke-opacity="0.75"/>
<ellipse cx="84.4" cy="372.4" rx="5.65" ry="6.3" fill="#00f000" stroke="#1a1a1a" stroke-width="0.6" fill-opacity="0.9" stroke-opacity="1"/>
<ellipse cx="136.4" cy="372.9" rx="5.65" ry="6.3" fill="#00f000" stroke="#1a1a1a" stroke-width="0.6" fill-opacity="0.65" stroke-opacity="0.75"/>
<ellipse cx="127" cy="384.7" rx="5.65" ry="6.3" fill="#00f000" stroke="#1a1a1a" stroke-width="0.6" fill-opacity="0.65" stroke-opacity="0.75"/>
<ellipse cx="132.9" cy="382" rx="5.65" ry="6.3" fill="#00f000" stroke="#1a1a1a" stroke-width="0.6" fill-opacity="0.65" stroke-opacity="0.75"/>
<ellipse cx="98.9" cy="393.4" rx="5.65" ry="6.3" fill="#00f000" stroke="#1a1a1a" stroke-width="0.6" fill-opacity="0.9" stroke-opacity="1"/>
<ellipse cx="155.3" cy="385.2" rx="5.65" ry="6.3" fill="#00f000" stroke="#1a1a1a" stroke-width="0.6" fill-opacity="0.65" stroke-opacity="0.75"/>
<ellipse cx="113.3" cy="401" rx="5.65" ry="6.3" fill="#00f000" stroke="#1a1a1a" stroke-width="0.6" fill-opacity="0.9" stroke-opacity="1"/>
<ellipse cx="142.2" cy="397.5" rx="5.65" ry="6.3" fill="#00f000" stroke="#1a1a1a" stroke-width="0.6" fill-opacity="0.65" stroke-opacity="0.75"/>
<ellipse cx="156.7" cy="399.9" rx="5.65" ry="6.3" fill="#00f000" stroke="#1a1a1a" stroke-width="0.6" fill-opacity="0.65" stroke-opacity="0.75"/>
<ellipse cx="107.2" cy="406.2" rx="5.65" ry="6.3" fill="#00f000" stroke="#1a1a1a" stroke-width="0.6" fill-opacity="0.9" stroke-opacity="1"/>
<ellipse cx="108.9" cy="409.2" rx="5.65" ry="6.3" fill="#00f000" stroke="#1a1a1a" stroke-width="0.6" fill-opacity="0.9" stroke-opacity="1"/>
<ellipse cx="123.8" cy="411.5" rx="5.65" ry="6.3" fill="#00f000" stroke="#1a1a1a" stroke-width="0.6" fill-opacity="0.65" stroke-opacity="0.75"/>
<ellipse cx="129.9" cy="414.5" rx="5.65" ry="6.3" fill="#00f000" stroke="#1a1a1a" stroke-width="0.6" fill-opacity="0.65" stroke-opacity="0.75"/>
<ellipse cx="150.1" cy="423.7" rx="5.65" ry="6.3" fill="#00f000" stroke="#1a1a1a" stroke-width="0.6" fill-opacity="0.65" stroke-opacity="0.75"/>
<ellipse cx="166.7" cy="421.5" rx="5.65" ry="6.3" fill="#00f000" stroke="#1a1a1a" stroke-width="0.6" fill-opacity="0.65" stroke-opacity="0.75"/>
<ellipse cx="155" cy="435.5" rx="5.65" ry="6.3" fill="#00f000" stroke="#1a1a1a" stroke-width="0.6" fill-opacity="0.65" stroke-opacity="0.75"/>
<ellipse cx="67" cy="445.6" rx="5.65" ry="6.3" fill="#00f000" stroke="#1a1a1a" stroke-width="0.6" fill-opacity="0.9" stroke-opacity="1"/>
<ellipse cx="141.9" cy="468.8" rx="5.65" ry="6.3" fill="#00f000" stroke="#1a1a1a" stroke-width="0.6" fill-opacity="0.9" stroke-opacity="1"/>
<ellipse cx="138.2" cy="473.7" rx="5.65" ry="6.3" fill="#00f000" stroke="#1a1a1a" stroke-width="0.6" fill-opacity="0.9" stroke-opacity="1"/>
<ellipse cx="157" cy="488.9" rx="5.65" ry="6.3" fill="#00f000" stroke="#1a1a1a" stroke-width="0.6" fill-opacity="0.65" stroke-opacity="0.75"/>
<ellipse cx="163.4" cy="499.3" rx="5.65" ry="6.3" fill="#00f000" stroke="#1a1a1a" stroke-width="0.6" fill-opacity="0.65" stroke-opacity="0.75"/>
<ellipse cx="161" cy="505.7" rx="5.65" ry="6.3" fill="#00f000" stroke="#1a1a1a" stroke-width="0.6" fill-opacity="0.8" stroke-opacity="0.9"/>
<ellipse cx="289" cy="407" rx="5.65" ry="6.3" fill="#ff0000" stroke="#1a1a1a" stroke-width="0.6" fill-opacity="0.9" stroke-opacity="1"/>
<ellipse cx="268.2" cy="419" rx="5.65" ry="6.3" fill="#ff0000" stroke="#1a1a1a" stroke-width="0.6" fill-opacity="0.9" stroke-opacity="1"/>
<ellipse cx="273.4" cy="450.9" rx="5.65" ry="6.3" fill="#ff0000" stroke="#1a1a1a" stroke-width="0.6" fill-opacity="0.9" stroke-opacity="1"/>
<ellipse cx="225.8" cy="479.2" rx="5.65" ry="6.3" fill="#ff0000" stroke="#1a1a1a" stroke-width="0.6" fill-opacity="0.6" stroke-opacity="0.7"/>
<ellipse cx="262" cy="486.5" rx="5.65" ry="6.3" fill="#ff0000" stroke="#1a1a1a" stroke-width="0.6" fill-opacity="0.9" stroke-opacity="1"/>
<ellipse cx="216.7" cy="494.3" rx="5.65" ry="6.3" fill="#ff0000" stroke="#1a1a1a" stroke-width="0.6" fill-opacity="0.6" stroke-opacity="0.7"/>
<ellipse cx="230.3" cy="503.5" rx="5.65" ry="6.3" fill="#ff0000" stroke="#1a1a1a" stroke-width="0.6" fill-opacity="0.6" stroke-opacity="0.7"/>
<ellipse cx="223.6" cy="509.3" rx="5.65" ry="6.3" fill="#ff0000" stroke="#1a1a1a" stroke-width="0.6" fill-opacity="0.6" stroke-opacity="0.7"/>
<line x1="191.5" y1="548" x2="191.5" y2="300" stroke="#262626" stroke-width="1.1" stroke-dasharray="5,3.33"/>
<line x1="34.8" y1="487.9" x2="345" y2="487.9" stroke="#262626" stroke-width="1.1" stroke-dasharray="4.79,2.81"/>
<line x1="122.9" y1="370.7" x2="126.4" y2="381.2" stroke="#222" stroke-width="0.7"/>
<line x1="97.5" y1="381.2" x2="98.4" y2="390" stroke="#222" stroke-width="0.7"/>
<line x1="161.5" y1="378.5" x2="157.1" y2="382.9" stroke="#222" stroke-width="0.7"/>
<line x1="185.1" y1="392.2" x2="178.1" y2="394.3" stroke="#222" stroke-width="0.7"/>
<line x1="178" y1="401" x2="200" y2="407.4" stroke="#222" stroke-width="0.7"/>
<line x1="131" y1="336" x2="150" y2="333" stroke="#222" stroke-width="0.7"/>
<line x1="70" y1="325" x2="71" y2="323" stroke="#222" stroke-width="0.7"/>
<line x1="168" y1="420" x2="172" y2="417" stroke="#222" stroke-width="0.7"/>
<line x1="170" y1="424" x2="181" y2="430" stroke="#222" stroke-width="0.7"/>
<line x1="286" y1="404" x2="285" y2="402" stroke="#222" stroke-width="0.7"/>
<line x1="270" y1="416" x2="272" y2="414" stroke="#222" stroke-width="0.7"/>
<text transform="translate(69.5,324.5) scale(1.02,1.12)" font-size="11.3" stroke="#000" stroke-width="0.2">Asn</text>
<text transform="translate(105,325.5) scale(1.02,1.12)" font-size="11.3" stroke="#000" stroke-width="0.2">Choline</text>
<text transform="translate(150,336.5) scale(1.02,1.12)" font-size="11.3" stroke="#000" stroke-width="0.2">Met-SO</text>
<text transform="translate(134.7,353.7) scale(1.02,1.12)" font-size="11.3" stroke="#000" stroke-width="0.2">Pro</text>
<text transform="translate(75,363.7) scale(1.02,1.12)" font-size="11.3" stroke="#000" stroke-width="0.2">Gln</text>
<text transform="translate(139.6,368.9) scale(1.02,1.12)" font-size="11.3" stroke="#000" stroke-width="0.2">Glu</text>
<text transform="translate(115,368.9) scale(1.02,1.12)" font-size="11.3" stroke="#000" stroke-width="0.2">Trp</text>
<text transform="translate(87.9,379.4) scale(1.02,1.12)" font-size="11.3" stroke="#000" stroke-width="0.2">Lys</text>
<text transform="translate(137.8,385.2) scale(1.02,1.12)" font-size="11.3" stroke="#000" stroke-width="0.2">Val</text>
<text transform="translate(163.7,380.6) scale(1.02,1.12)" font-size="11.3" stroke="#000" stroke-width="0.2">His</text>
<text transform="translate(105.9,392.6) scale(1.02,1.12)" font-size="11.3" stroke="#000" stroke-width="0.2">Thr</text>
<text transform="translate(158.8,396.1) scale(1.02,1.12)" font-size="11.3" stroke="#000" stroke-width="0.2">Ala</text>
<text transform="translate(185.1,396.1) scale(1.02,1.12)" font-size="11.3" stroke="#000" stroke-width="0.2">Ile</text>
<text transform="translate(201,412) scale(1.02,1.12)" font-size="11.3" stroke="#000" stroke-width="0.2">Leu</text>
<text transform="translate(86.1,408.7) scale(1.02,1.12)" font-size="11.3" stroke="#000" stroke-width="0.2">Arg</text>
<text transform="translate(119.4,407.4) scale(1.02,1.12)" font-size="11.3" stroke="#000" stroke-width="0.2">Met</text>
<text transform="translate(103.1,425) scale(1.02,1.12)" font-size="11.3" stroke="#000" stroke-width="0.2">Asp</text>
<text transform="translate(133.4,421.5) scale(1.02,1.12)" font-size="11.3" stroke="#000" stroke-width="0.2">Gly</text>
<text transform="translate(156.2,416.7) scale(1.02,1.12)" font-size="11.3" stroke="#000" stroke-width="0.2">Tyr</text>
<text transform="translate(158.8,434.6) scale(1.02,1.12)" font-size="11.3" stroke="#000" stroke-width="0.2">Ser</text>
<text transform="translate(181.6,433) scale(1.02,1.12)" font-size="11.3" stroke="#000" stroke-width="0.2">LYSOC14:0</text>
<text transform="translate(274.5,400.8) scale(1.02,1.12)" font-size="11.3" stroke="#000" stroke-width="0.2">Histamine</text>
<text transform="translate(247.5,417) scale(1.02,1.12)" font-size="11.3" stroke="#000" stroke-width="0.2">Butyric acid</text>
<line x1="369" y1="299.3" x2="369" y2="545" stroke="#333333" stroke-width="1.1"/>
<line x1="369" y1="545" x2="682.5" y2="545" stroke="#333333" stroke-width="1.1"/>
<text transform="translate(431,557.8) scale(1.02,1.09)" font-size="11" text-anchor="middle" fill="#383838">-2</text>
<text transform="translate(526.6,557.8) scale(1.02,1.09)" font-size="11" text-anchor="middle" fill="#383838">0</text>
<text transform="translate(622.2,557.8) scale(1.02,1.09)" font-size="11" text-anchor="middle" fill="#383838">2</text>
<text transform="translate(366.4,539) scale(1.02,1.09)" font-size="11" text-anchor="end" fill="#383838">0</text>
<text transform="translate(366.4,494.35) scale(1.02,1.09)" font-size="11" text-anchor="end" fill="#383838">1</text>
<text transform="translate(366.4,449.7) scale(1.02,1.09)" font-size="11" text-anchor="end" fill="#383838">2</text>
<text transform="translate(366.4,405.05) scale(1.02,1.09)" font-size="11" text-anchor="end" fill="#383838">3</text>
<text transform="translate(366.4,360.4) scale(1.02,1.09)" font-size="11" text-anchor="end" fill="#383838">4</text>
<text transform="translate(366.4,315.75) scale(1.02,1.09)" font-size="11" text-anchor="end" fill="#383838">5</text>
<text transform="translate(369.2,293.6) scale(1.02,1.09)" font-size="10.8" font-weight="bold">Combined</text>
<text transform="translate(348.5,283.7) scale(1.02,1.09)" font-size="13.5" stroke="#000" stroke-width="0.45">D<tspan font-size="10" dx="1">.</tspan></text>
<text transform="translate(530,569.5) scale(1.02,1.09)" font-size="11.8" text-anchor="middle" font-weight="bold">log<tspan font-size="7.5" dy="3">2</tspan><tspan dy="-3" dx="2.5"> (FC)</tspan></text>
<text transform="translate(353.5,424.6) rotate(-90) scale(1.09,1.02)" font-size="12" font-weight="bold" text-anchor="middle">-log<tspan font-size="7.8" dy="3">10</tspan><tspan dy="-3">(</tspan><tspan font-style="italic">P</tspan>-value)</text>
<ellipse cx="511.5" cy="373.2" rx="5.7" ry="6.15" fill="#404040" stroke="#1a1a1a" stroke-width="0.6" fill-opacity="0.45" stroke-opacity="0.55"/>
<ellipse cx="505" cy="396.9" rx="5.7" ry="6.15" fill="#404040" stroke="#1a1a1a" stroke-width="0.6" fill-opacity="0.45" stroke-opacity="0.55"/>
<ellipse cx="515.7" cy="400.8" rx="5.7" ry="6.15" fill="#404040" stroke="#1a1a1a" stroke-width="0.6" fill-opacity="0.45" stroke-opacity="0.55"/>
<ellipse cx="509.2" cy="462.1" rx="5.7" ry="6.15" fill="#404040" stroke="#1a1a1a" stroke-width="0.6" fill-opacity="0.45" stroke-opacity="0.55"/>
<ellipse cx="513.7" cy="482.3" rx="5.7" ry="6.15" fill="#404040" stroke="#1a1a1a" stroke-width="0.6" fill-opacity="0.45" stroke-opacity="0.55"/>
<ellipse cx="549.7" cy="480.2" rx="5.7" ry="6.15" fill="#404040" stroke="#1a1a1a" stroke-width="0.6" fill-opacity="0.45" stroke-opacity="0.55"/>
<ellipse cx="506.1" cy="495.8" rx="5.7" ry="6.15" fill="#404040" stroke="#1a1a1a" stroke-width="0.6" fill-opacity="0.45" stroke-opacity="0.55"/>
<ellipse cx="514.8" cy="492" rx="5.7" ry="6.15" fill="#404040" stroke="#1a1a1a" stroke-width="0.6" fill-opacity="0.45" stroke-opacity="0.55"/>
<ellipse cx="522.3" cy="494.1" rx="5.7" ry="6.15" fill="#404040" stroke="#1a1a1a" stroke-width="0.6" fill-opacity="0.45" stroke-opacity="0.55"/>
<ellipse cx="495.4" cy="512.4" rx="5.7" ry="6.15" fill="#404040" stroke="#1a1a1a" stroke-width="0.6" fill-opacity="0.6" stroke-opacity="0.7"/>
<ellipse cx="505.1" cy="507.6" rx="5.7" ry="6.15" fill="#404040" stroke="#1a1a1a" stroke-width="0.6" fill-opacity="0.45" stroke-opacity="0.55"/>
<ellipse cx="513.7" cy="503.8" rx="5.7" ry="6.15" fill="#404040" stroke="#1a1a1a" stroke-width="0.6" fill-opacity="0.45" stroke-opacity="0.55"/>
<ellipse cx="515.3" cy="508.1" rx="5.7" ry="6.15" fill="#404040" stroke="#1a1a1a" stroke-width="0.6" fill-opacity="0.6" stroke-opacity="0.7"/>
<ellipse cx="544.9" cy="500.6" rx="5.7" ry="6.15" fill="#404040" stroke="#1a1a1a" stroke-width="0.6" fill-opacity="0.45" stroke-opacity="0.55"/>
<ellipse cx="546" cy="514.6" rx="5.7" ry="6.15" fill="#404040" stroke="#1a1a1a" stroke-width="0.6" fill-opacity="0.45" stroke-opacity="0.55"/>
<ellipse cx="543.3" cy="523.2" rx="5.7" ry="6.15" fill="#404040" stroke="#1a1a1a" stroke-width="0.6" fill-opacity="0.45" stroke-opacity="0.55"/>
<ellipse cx="532" cy="508.1" rx="5.7" ry="6.15" fill="#404040" stroke="#1a1a1a" stroke-width="0.6" fill-opacity="0.6" stroke-opacity="0.7"/>
<ellipse cx="535.2" cy="511.4" rx="5.7" ry="6.15" fill="#404040" stroke="#1a1a1a" stroke-width="0.6" fill-opacity="0.6" stroke-opacity="0.7"/>
<ellipse cx="530.9" cy="513.5" rx="5.7" ry="6.15" fill="#404040" stroke="#1a1a1a" stroke-width="0.6" fill-opacity="0.6" stroke-opacity="0.7"/>
<ellipse cx="538.4" cy="513.5" rx="5.7" ry="6.15" fill="#404040" stroke="#1a1a1a" stroke-width="0.6" fill-opacity="0.45" stroke-opacity="0.55"/>
<ellipse cx="512.6" cy="514.6" rx="5.7" ry="6.15" fill="#404040" stroke="#1a1a1a" stroke-width="0.6" fill-opacity="0.72" stroke-opacity="0.82"/>
<ellipse cx="511.5" cy="520" rx="5.7" ry="6.15" fill="#404040" stroke="#1a1a1a" stroke-width="0.6" fill-opacity="0.6" stroke-opacity="0.7"/>
<ellipse cx="515.8" cy="518.9" rx="5.7" ry="6.15" fill="#404040" stroke="#1a1a1a" stroke-width="0.6" fill-opacity="0.6" stroke-opacity="0.7"/>
<ellipse cx="519.1" cy="524.3" rx="5.7" ry="6.15" fill="#404040" stroke="#1a1a1a" stroke-width="0.6" fill-opacity="0.72" stroke-opacity="0.82"/>
<ellipse cx="521.2" cy="527.5" rx="5.7" ry="6.15" fill="#404040" stroke="#1a1a1a" stroke-width="0.6" fill-opacity="0.72" stroke-opacity="0.82"/>
<ellipse cx="526.6" cy="533.4" rx="5.7" ry="6.15" fill="#1a1a1a" stroke="#1a1a1a" stroke-width="0.6" fill-opacity="0.9" stroke-opacity="1"/>
<ellipse cx="510.5" cy="521" rx="5.7" ry="6.15" fill="#404040" stroke="#1a1a1a" stroke-width="0.6" fill-opacity="0.45" stroke-opacity="0.55"/>
<ellipse cx="513.7" cy="525.4" rx="5.7" ry="6.15" fill="#404040" stroke="#1a1a1a" stroke-width="0.6" fill-opacity="0.6" stroke-opacity="0.7"/>
<ellipse cx="529.8" cy="524.3" rx="5.7" ry="6.15" fill="#404040" stroke="#1a1a1a" stroke-width="0.6" fill-opacity="0.6" stroke-opacity="0.7"/>
<ellipse cx="530.9" cy="517.8" rx="5.7" ry="6.15" fill="#404040" stroke="#1a1a1a" stroke-width="0.6" fill-opacity="0.45" stroke-opacity="0.55"/>
<ellipse cx="429.6" cy="325.4" rx="5.7" ry="6.15" fill="#00f000" stroke="#1a1a1a" stroke-width="0.6" fill-opacity="0.9" stroke-opacity="1"/>
<ellipse cx="471.7" cy="327.2" rx="5.7" ry="6.15" fill="#00f000" stroke="#1a1a1a" stroke-width="0.6" fill-opacity="0.65" stroke-opacity="0.75"/>
<ellipse cx="434.4" cy="344.7" rx="5.7" ry="6.15" fill="#00f000" stroke="#1a1a1a" stroke-width="0.6" fill-opacity="0.9" stroke-opacity="1"/>
<ellipse cx="478.7" cy="347.3" rx="5.7" ry="6.15" fill="#00f000" stroke="#1a1a1a" stroke-width="0.6" fill-opacity="0.65" stroke-opacity="0.75"/>
<ellipse cx="482.2" cy="351.7" rx="5.7" ry="6.15" fill="#00f000" stroke="#1a1a1a" stroke-width="0.6" fill-opacity="0.65" stroke-opacity="0.75"/>
<ellipse cx="481.7" cy="362.2" rx="5.7" ry="6.15" fill="#00f000" stroke="#1a1a1a" stroke-width="0.6" fill-opacity="0.65" stroke-opacity="0.75"/>
<ellipse cx="477.8" cy="367.4" rx="5.7" ry="6.15" fill="#00f000" stroke="#1a1a1a" stroke-width="0.6" fill-opacity="0.65" stroke-opacity="0.75"/>
<ellipse cx="457.1" cy="368.7" rx="5.7" ry="6.15" fill="#00f000" stroke="#1a1a1a" stroke-width="0.6" fill-opacity="0.65" stroke-opacity="0.75"/>
<ellipse cx="448.9" cy="377.1" rx="5.7" ry="6.15" fill="#00f000" stroke="#1a1a1a" stroke-width="0.6" fill-opacity="0.9" stroke-opacity="1"/>
<ellipse cx="453.3" cy="380.6" rx="5.7" ry="6.15" fill="#00f000" stroke="#1a1a1a" stroke-width="0.6" fill-opacity="0.9" stroke-opacity="1"/>
<ellipse cx="471.7" cy="382.3" rx="5.7" ry="6.15" fill="#00f000" stroke="#1a1a1a" stroke-width="0.6" fill-opacity="0.65" stroke-opacity="0.75"/>
<ellipse cx="475.2" cy="380.9" rx="5.7" ry="6.15" fill="#00f000" stroke="#1a1a1a" stroke-width="0.6" fill-opacity="0.65" stroke-opacity="0.75"/>
<ellipse cx="498.2" cy="378" rx="5.7" ry="6.15" fill="#00f000" stroke="#1a1a1a" stroke-width="0.6" fill-opacity="0.65" stroke-opacity="0.75"/>
<ellipse cx="499" cy="384" rx="5.7" ry="6.15" fill="#00f000" stroke="#1a1a1a" stroke-width="0.6" fill-opacity="0.65" stroke-opacity="0.75"/>
<ellipse cx="407" cy="408.7" rx="5.7" ry="6.15" fill="#00f000" stroke="#1a1a1a" stroke-width="0.6" fill-opacity="0.9" stroke-opacity="1"/>
<ellipse cx="471.5" cy="400.4" rx="5.7" ry="6.15" fill="#00f000" stroke="#1a1a1a" stroke-width="0.6" fill-opacity="0.8" stroke-opacity="0.9"/>
<ellipse cx="490.8" cy="399.4" rx="5.7" ry="6.15" fill="#00f000" stroke="#1a1a1a" stroke-width="0.6" fill-opacity="0.65" stroke-opacity="0.75"/>
<ellipse cx="490.8" cy="409.2" rx="5.7" ry="6.15" fill="#00f000" stroke="#1a1a1a" stroke-width="0.6" fill-opacity="0.65" stroke-opacity="0.75"/>
<ellipse cx="464.5" cy="416.5" rx="5.7" ry="6.15" fill="#00f000" stroke="#1a1a1a" stroke-width="0.6" fill-opacity="0.9" stroke-opacity="1"/>
<ellipse cx="478.6" cy="440" rx="5.7" ry="6.15" fill="#00f000" stroke="#1a1a1a" stroke-width="0.6" fill-opacity="0.9" stroke-opacity="1"/>
<ellipse cx="474" cy="443.5" rx="5.7" ry="6.15" fill="#00f000" stroke="#1a1a1a" stroke-width="0.6" fill-opacity="0.9" stroke-opacity="1"/>
<ellipse cx="499.1" cy="441" rx="5.7" ry="6.15" fill="#00f000" stroke="#1a1a1a" stroke-width="0.6" fill-opacity="0.55" stroke-opacity="0.65"/>
<ellipse cx="492" cy="463.6" rx="5.7" ry="6.15" fill="#00f000" stroke="#1a1a1a" stroke-width="0.6" fill-opacity="0.65" stroke-opacity="0.75"/>
<ellipse cx="497.7" cy="479.2" rx="5.7" ry="6.15" fill="#00f000" stroke="#1a1a1a" stroke-width="0.6" fill-opacity="0.65" stroke-opacity="0.75"/>
<ellipse cx="496.4" cy="491.3" rx="5.7" ry="6.15" fill="#00f000" stroke="#1a1a1a" stroke-width="0.6" fill-opacity="0.9" stroke-opacity="1"/>
<ellipse cx="493.8" cy="503.2" rx="5.7" ry="6.15" fill="#00f000" stroke="#1a1a1a" stroke-width="0.6" fill-opacity="0.9" stroke-opacity="1"/>
<ellipse cx="496.4" cy="505.3" rx="5.7" ry="6.15" fill="#00f000" stroke="#1a1a1a" stroke-width="0.6" fill-opacity="0.9" stroke-opacity="1"/>
<ellipse cx="609.4" cy="339" rx="5.7" ry="6.15" fill="#ff0000" stroke="#1a1a1a" stroke-width="0.6" fill-opacity="0.9" stroke-opacity="1"/>
<ellipse cx="613.4" cy="377.2" rx="5.7" ry="6.15" fill="#ff0000" stroke="#1a1a1a" stroke-width="0.6" fill-opacity="0.9" stroke-opacity="1"/>
<ellipse cx="602.7" cy="422.4" rx="5.7" ry="6.15" fill="#ff0000" stroke="#1a1a1a" stroke-width="0.6" fill-opacity="0.9" stroke-opacity="1"/>
<ellipse cx="604" cy="449.8" rx="5.7" ry="6.15" fill="#ff0000" stroke="#1a1a1a" stroke-width="0.6" fill-opacity="0.9" stroke-opacity="1"/>
<ellipse cx="569.7" cy="477.3" rx="5.7" ry="6.15" fill="#ff0000" stroke="#1a1a1a" stroke-width="0.6" fill-opacity="0.6" stroke-opacity="0.7"/>
<line x1="526.6" y1="545" x2="526.6" y2="299.3" stroke="#262626" stroke-width="1.1" stroke-dasharray="4.9,3.26"/>
<line x1="369" y1="475.6" x2="682.5" y2="475.6" stroke="#262626" stroke-width="1.1" stroke-dasharray="4.82,2.83"/>
<line x1="482.2" y1="351.7" x2="502" y2="327.2" stroke="#222" stroke-width="0.7"/>
<line x1="478" y1="367" x2="503.2" y2="342" stroke="#222" stroke-width="0.7"/>
<line x1="471.5" y1="382.3" x2="505.8" y2="357.8" stroke="#222" stroke-width="0.7"/>
<line x1="448.9" y1="377.1" x2="444.5" y2="365.7" stroke="#222" stroke-width="0.7"/>
<line x1="457.1" y1="368.7" x2="464" y2="363.3" stroke="#222" stroke-width="0.7"/>
<line x1="511.5" y1="373.2" x2="533.75" y2="362.5" stroke="#222" stroke-width="0.7"/>
<line x1="498.2" y1="378" x2="524.4" y2="372.4" stroke="#222" stroke-width="0.7"/>
<line x1="505" y1="396.9" x2="524.4" y2="389" stroke="#222" stroke-width="0.7"/>
<line x1="490.8" y1="409.2" x2="490.5" y2="415.7" stroke="#222" stroke-width="0.7"/>
<line x1="609.4" y1="339" x2="613" y2="334" stroke="#222" stroke-width="0.7"/>
<line x1="613.4" y1="377.2" x2="617" y2="372" stroke="#222" stroke-width="0.7"/>
<line x1="407" y1="408.7" x2="411" y2="403.5" stroke="#222" stroke-width="0.7"/>
<line x1="429.6" y1="325.4" x2="431.5" y2="321.5" stroke="#222" stroke-width="0.7"/>
<line x1="471.7" y1="327.2" x2="474" y2="322" stroke="#222" stroke-width="0.7"/>
<line x1="434.4" y1="344.7" x2="436" y2="340.5" stroke="#222" stroke-width="0.7"/>
<text transform="translate(430.5,321) scale(1.02,1.09)" font-size="11.3" stroke="#000" stroke-width="0.2">Asn</text>
<text transform="translate(457.7,320.7) scale(1.02,1.09)" font-size="11.3" stroke="#000" stroke-width="0.2">Choline</text>
<text transform="translate(433.7,339.4) scale(1.02,1.09)" font-size="11.3" stroke="#000" stroke-width="0.2">Gln</text>
<text transform="translate(457.7,343.8) scale(1.02,1.09)" font-size="11.3" stroke="#000" stroke-width="0.2">Met-SO</text>
<text transform="translate(502.7,330.1) scale(1.02,1.09)" font-size="11.3" stroke="#000" stroke-width="0.2">Pro</text>
<text transform="translate(503.7,345.9) scale(1.02,1.09)" font-size="11.3" stroke="#000" stroke-width="0.2">Glu</text>
<text transform="translate(460.3,362.2) scale(1.02,1.09)" font-size="11.3" stroke="#000" stroke-width="0.2">Thr</text>
<text transform="translate(484.8,362.2) scale(1.02,1.09)" font-size="11.3" stroke="#000" stroke-width="0.2">Val</text>
<text transform="translate(506.2,362.2) scale(1.02,1.09)" font-size="11.3" stroke="#000" stroke-width="0.2">Gly</text>
<text transform="translate(529.5,362.2) scale(1.02,1.09)" font-size="11.3" stroke="#000" stroke-width="0.2">Ile</text>
<text transform="translate(435.4,363.9) scale(1.02,1.09)" font-size="11.3" stroke="#000" stroke-width="0.2">Lys</text>
<text transform="translate(455,378.8) scale(1.02,1.09)" font-size="11.3" stroke="#000" stroke-width="0.2">Asp</text>
<text transform="translate(481.3,376.7) scale(1.02,1.09)" font-size="11.3" stroke="#000" stroke-width="0.2">Trp</text>
<text transform="translate(526,377.1) scale(1.02,1.09)" font-size="11.3" stroke="#000" stroke-width="0.2">Ala</text>
<text transform="translate(449.6,397.3) scale(1.02,1.09)" font-size="11.3" stroke="#000" stroke-width="0.2">Met</text>
<text transform="translate(479.4,395.5) scale(1.02,1.09)" font-size="11.3" stroke="#000" stroke-width="0.2">Tyr</text>
<text transform="translate(503.4,392.9) scale(1.02,1.09)" font-size="11.3" stroke="#000" stroke-width="0.2">His</text>
<text transform="translate(527.6,392.9) scale(1.02,1.09)" font-size="11.3" stroke="#000" stroke-width="0.2">LYSOC14:0</text>
<text transform="translate(520.2,408.7) scale(1.02,1.09)" font-size="11.3" stroke="#000" stroke-width="0.2">Leu</text>
<text transform="translate(468.9,414.4) scale(1.02,1.09)" font-size="11.3" stroke="#000" stroke-width="0.2">Arg</text>
<text transform="translate(492.2,424.4) scale(1.02,1.09)" font-size="11.3" stroke="#000" stroke-width="0.2">Pyruvic acid</text>
<text transform="translate(395,404.5) scale(1.02,1.09)" font-size="11.3" stroke="#000" stroke-width="0.2">Glucose</text>
<text transform="translate(588.3,335.2) scale(1.02,1.09)" font-size="11.3" stroke="#000" stroke-width="0.2">Butyric acid</text>
<text transform="translate(596.6,373.4) scale(1.02,1.09)" font-size="11.3" stroke="#000" stroke-width="0.2">Histamine</text>
</svg>
</body></html>
